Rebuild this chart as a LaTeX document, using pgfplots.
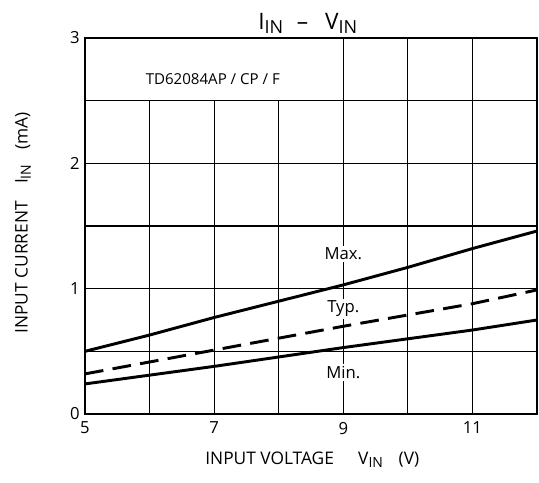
\documentclass[border=0pt]{standalone}
\usepackage{fontspec}
\setmainfont{Open Sans}
\usepackage{pgfplots}
\pgfplotsset{compat=1.18}
\newcommand{\sub}[1]{\raisebox{-0.35ex}{\fontsize{10.5}{11}\selectfont #1}}
\begin{document}
\begin{tikzpicture}
\begin{axis}[
  scale only axis, width=339pt, height=282pt,
  xmin=5, xmax=12, ymin=0, ymax=3,
  xtick={5,7,9,11}, ytick={0,1,2,3},
  major tick length=0pt,
  tick label style={font=\fontsize{12.5}{14}\selectfont},
  /pgf/number format/assume math mode=true,
  xticklabel style={yshift=-2.5pt},
  yticklabel style={xshift=-0.5pt},
  axis line style={line width=1.4pt},
  clip=false,
]
% grid
\pgfplotsinvokeforeach{6,7,8}{\draw[line width=0.9pt] (axis cs:#1,0) -- (axis cs:#1,2.5);}
\pgfplotsinvokeforeach{9,10,11}{\draw[line width=0.9pt] (axis cs:#1,0) -- (axis cs:#1,3);}
\pgfplotsinvokeforeach{0.5,1,1.5,2,2.5}{\draw[line width=0.9pt] (axis cs:5,#1) -- (axis cs:12,#1);}
% curves
\addplot[line width=2.2pt] coordinates {(5,0.50)(6,0.63)(7,0.77)(8,0.90)(9,1.03)(10,1.17)(11,1.32)(12,1.46)};
\addplot[line width=2.2pt, dash pattern=on 14pt off 7pt] coordinates {(5,0.32)(6,0.415)(7,0.51)(8,0.605)(9,0.70)(10,0.79)(11,0.88)(12,0.99)};
\addplot[line width=2.2pt] coordinates {(5,0.24)(6,0.31)(7,0.38)(8,0.455)(9,0.53)(10,0.60)(11,0.67)(12,0.75)};
% labels
\node[fill=white, inner sep=1.5pt, font=\fontsize{12.5}{14}\selectfont] at (axis cs:9,1.28) {Max.};
\node[fill=white, inner sep=1.5pt, font=\fontsize{12.5}{14}\selectfont] at (axis cs:9,0.84) {Typ.};
\node[fill=white, inner sep=1.5pt, font=\fontsize{12.5}{14}\selectfont] at (axis cs:9,0.33) {Min.};
\node[font=\fontsize{11.3}{13}\selectfont] at (axis cs:6.98,2.67) {TD62084AP / CP / F};
% title
\node[anchor=base, yshift=6.75pt, font=\fontsize{17}{19}\selectfont] at (axis cs:8.45,3) {I\raisebox{-0.35ex}{\fontsize{13.5}{14}\selectfont IN}\hspace{0.6em}–\hspace{0.75em}V\raisebox{-0.35ex}{\fontsize{13.5}{14}\selectfont IN}};
% axis labels
\node[anchor=base, yshift=-37.5pt, font=\fontsize{13}{15}\selectfont] at (axis cs:8.52,0) {INPUT VOLTAGE\hspace{1.4em}V\sub{IN}\hspace{0.9em}(V)};
\node[xshift=-46.5pt, rotate=90, font=\fontsize{13}{15}\selectfont] at (axis cs:5,1.524) {INPUT CURRENT\hspace{1.0em}I\sub{IN}\hspace{0.85em}(mA)};
\end{axis}
\pgfresetboundingbox
\path (current axis.south west) ++(-63.75pt,-51pt) coordinate (bbA);
\path (current axis.north east) ++(1.5pt,28.5pt) coordinate (bbB);
\path (bbA) rectangle (bbB);
\end{tikzpicture}
\end{document}
